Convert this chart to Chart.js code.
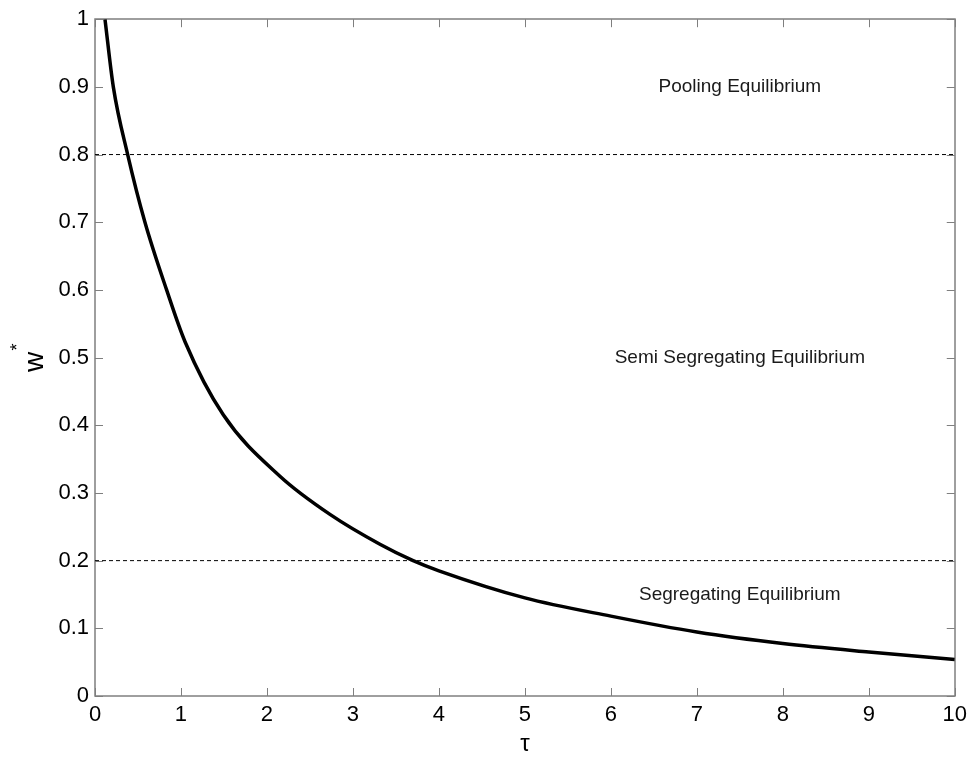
<!DOCTYPE html>
<html>
<head>
<meta charset="utf-8">
<script src="https://cdn.jsdelivr.net/npm/chart.js@4/dist/chart.umd.min.js"></script>
<style>
  html, body { margin: 0; padding: 0; background: #fff; }
  #wrap { width: 973px; height: 762px; }
</style>
</head>
<body>
<div id="wrap"><canvas id="grafico"></canvas></div>
<script>
// values
const tau = [0.116, 0.213, 0.38, 0.581, 0.833, 1.047, 1.492, 2.151, 2.733, 3.314, 3.7, 4, 5, 6, 7, 8, 9, 10];
const wStar = [1.0, 0.9, 0.8, 0.7, 0.6, 0.5235, 0.4155, 0.3247, 0.2683, 0.2242, 0.2, 0.185, 0.145, 0.118, 0.0945, 0.0775, 0.065, 0.054];

const limites = [0.8, 0.2];
const xRange = [0, 10];
const yRange = [0, 1];

const regioes = ["Pooling Equilibrium", "Semi Segregating Equilibrium", "Segregating Equilibrium"];
const regioesX = [7.5, 7.5, 7.5];
const regioesY = [0.9, 0.5, 0.15];

const FONTE = "'Liberation Sans', Arial, sans-serif";

// frame, inward ticks, texts
const moldura = {
  id: "moldura",
  beforeDatasetsDraw(chart) {
    const { ctx, chartArea: a, scales } = chart;
    const len = 8;
    ctx.save();
    ctx.strokeStyle = "#7f7f7f";
    ctx.lineWidth = 1;
    ctx.beginPath();
    scales.x.ticks.forEach((t) => {
      const px = Math.round(scales.x.getPixelForValue(t.value)) + 0.5;
      ctx.moveTo(px, a.bottom);
      ctx.lineTo(px, a.bottom - len);
      ctx.moveTo(px, a.top);
      ctx.lineTo(px, a.top + len);
    });
    scales.y.ticks.forEach((t) => {
      const py = Math.round(scales.y.getPixelForValue(t.value)) + 0.5;
      ctx.moveTo(a.left, py);
      ctx.lineTo(a.left + len, py);
      ctx.moveTo(a.right, py);
      ctx.lineTo(a.right - len, py);
    });
    ctx.stroke();
    ctx.lineWidth = 1.5;
    ctx.strokeRect(Math.round(a.left), Math.round(a.top), Math.round(a.right - a.left), Math.round(a.bottom - a.top));
    ctx.restore();
  },
  afterDatasetsDraw(chart) {
    const { ctx, scales } = chart;
    ctx.save();
    ctx.fillStyle = "#1a1a1a";
    ctx.font = "19px " + FONTE;
    ctx.textAlign = "center";
    ctx.textBaseline = "middle";
    regioes.forEach((txt, i) => {
      ctx.fillText(txt, scales.x.getPixelForValue(regioesX[i]), scales.y.getPixelForValue(regioesY[i]));
    });

    // axis titles
    ctx.fillStyle = "#000";
    ctx.font = "24px " + FONTE;
    ctx.fillText("\u03c4", (chart.chartArea.left + chart.chartArea.right) / 2, 744);

    ctx.translate(35, 362);
    ctx.rotate(-Math.PI / 2);
    ctx.font = "28px " + FONTE;
    ctx.fillText("w", 0, 0);
    ctx.font = "18px " + FONTE;
    ctx.fillText("*", 15, -17);
    ctx.restore();
  },
};

const curva = tau.map((t, i) => ({ x: t, y: wStar[i] }));
const rotulo = (v) => String(+v.toFixed(1));

new Chart(document.getElementById("grafico"), {
  type: "scatter",
  data: {
    datasets: [
      {
        data: curva,
        showLine: true,
        borderColor: "#000",
        borderWidth: 3.5,
        pointRadius: 0,
        cubicInterpolationMode: "monotone",
        order: 0,
      },
      ...limites.map((v) => ({
        data: [{ x: xRange[0], y: v }, { x: xRange[1], y: v }],
        showLine: true,
        borderColor: "#000",
        borderWidth: 1,
        borderDash: [4, 3],
        pointRadius: 0,
        order: 1,
      })),
    ],
  },
  options: {
    responsive: true,
    maintainAspectRatio: false,
    animation: false,
    layout: { padding: { top: 16, right: 18, left: 0, bottom: 0 } },
    plugins: { legend: { display: false }, tooltip: { enabled: false } },
    scales: {
      x: {
        type: "linear",
        min: xRange[0],
        max: xRange[1],
        grid: { display: false, drawTicks: false },
        border: { display: false },
        ticks: { stepSize: 1, color: "#000", padding: 6, callback: rotulo, font: { family: FONTE, size: 22 } },
        afterFit: (s) => { s.height = 66; },
      },
      y: {
        type: "linear",
        min: yRange[0],
        max: yRange[1],
        grid: { display: false, drawTicks: false },
        border: { display: false },
        ticks: { stepSize: 0.1, color: "#000", padding: 6, callback: rotulo, font: { family: FONTE, size: 22 } },
        afterFit: (s) => { s.width = 95; },
      },
    },
  },
  plugins: [moldura],
});
</script>
</body>
</html>
